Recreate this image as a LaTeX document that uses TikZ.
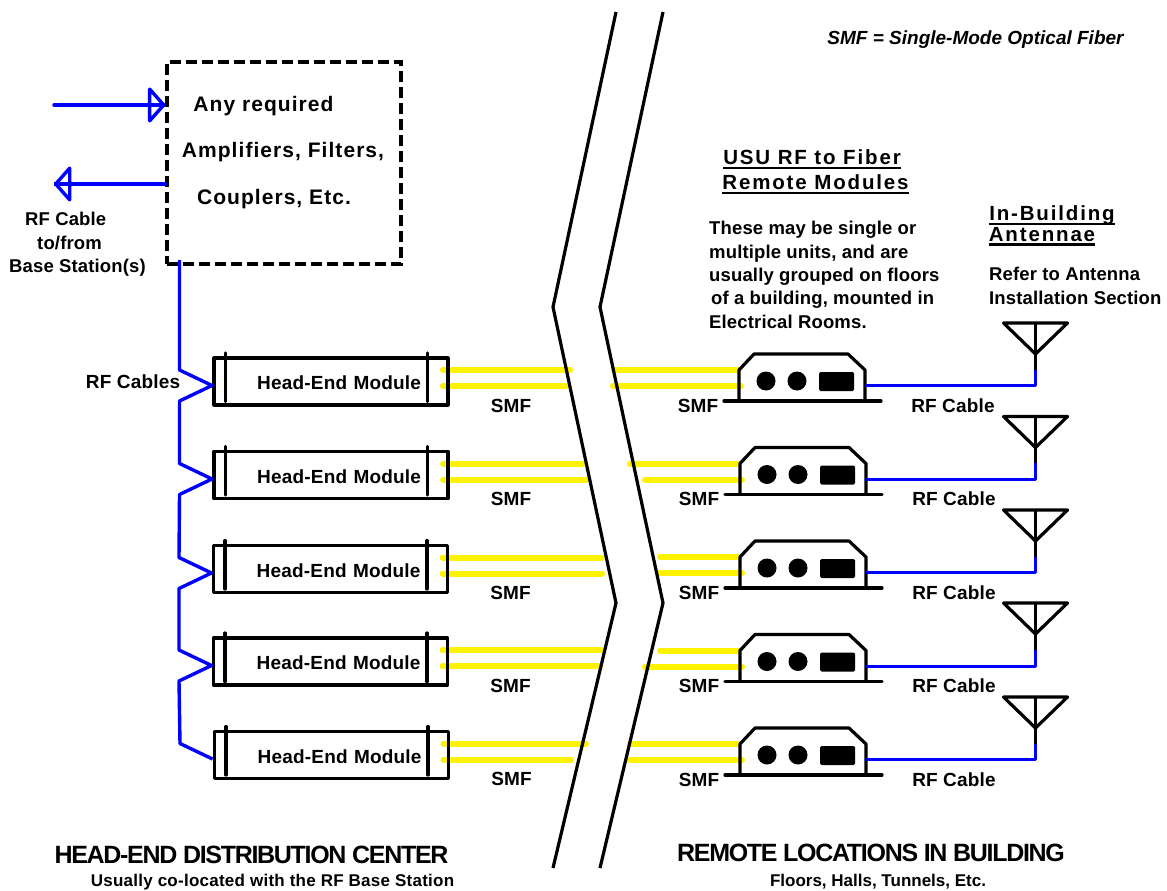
\documentclass[tikz,border=0pt]{standalone}
\usepackage{fontspec}
\usepackage{tikz}
\usetikzlibrary{arrows.meta, positioning, calc}
\setmainfont{Liberation Sans}
\newcommand{\headul}[1]{\setbox0=\hbox{#1}\rlap{\rule[-5pt]{\wd0}{2.7pt}}\box0}

\begin{document}
\begin{tikzpicture}[x=1pt,y=-1pt,
  lab/.style={inner sep=0pt,font=\bfseries\fontsize{19}{23.4}\selectfont\addfontfeature{LetterSpace=1}},
  notetext/.style={inner sep=0pt,align=left,anchor=north west,font=\bfseries\fontsize{18.5}{23.4}\selectfont\addfontfeature{LetterSpace=0.8}},
  subtext/.style={inner sep=0pt,font=\bfseries\fontsize{17}{21}\selectfont},
  boxtext/.style={inner sep=0pt,font=\bfseries\fontsize{21}{24}\selectfont\addfontfeature{LetterSpace=5}},
  headtext/.style={inner sep=0pt,text depth=0pt,font=\bfseries\fontsize{20.5}{24}\selectfont\addfontfeature{LetterSpace=9}},
  titletext/.style={inner sep=0pt,font=\bfseries\fontsize{25}{30}\selectfont\addfontfeature{LetterSpace=-5.2}},
  hebox/.style={draw,line width=3.2pt,line join=round,minimum width=234pt,minimum height=47pt,
    text width=180pt,inner xsep=27pt,inner ysep=0pt,align=right,text height=16pt,text depth=0pt},
  distbox/.style={draw,line width=3.2pt,dash pattern=on 11pt off 5pt,minimum width=234pt,minimum height=202pt},
  blk/.style={line width=3.2pt,line join=round,line cap=round},
  rfline/.style={draw={rgb,255:red,0;green,0;blue,255},line width=3.4pt,line join=round},
  rfarrow/.style={rfline,line cap=round,-{Triangle[open,length=18pt,width=40pt,round]}},
  fiber/.style={draw=yellow,line width=6pt,line cap=round},
  breakline/.style={line width=3.2pt,line join=miter},
  pics/hemod/.style={code={
    \node[hebox,lab] (-box) at (0,0) {Head-End Module};
    \draw[blk] (-105.5,-28.5)--(-105.5,20);
    \draw[blk] (96.5,-28.5)--(96.5,20);
    \node[lab] (-smf) at (180,24) {SMF};
    \coordinate (-tap) at (-119,4);
    \coordinate (-in) at (-151.5,-11.5);
    \coordinate (-out) at (-151.5,19.5);
  }},
  pics/remote/.style={code={
    \draw[blk] (-78,23)--(79,23);
    \draw[blk] (-63,23)--(-63,-8)--(-48,-24)--(46,-24)--(63,-8)--(63,23);
    \fill (-36,3) circle (9.5);
    \fill (-5,3) circle (9.5);
    \fill[rounded corners=1.5pt] (17,-6) rectangle (52,13);
    \node[lab] (-smf) at (-104,27.5) {SMF};
    \node[lab] (-cab) at (151,27.5) {RF Cable};
    \coordinate (-port) at (63,7.7);
  }},
  pics/antenna/.style={code={
    \draw[blk] (-32,-31)--(32,-31)--(0,0)--cycle;
    \draw[blk,line cap=butt] (0,-31)--(0,15.5);
    \coordinate (-feed) at (0,15.5);
  }}]
  \useasboundingbox (0,0) rectangle (1167,891);

  \coordinate (he1f) at (331,381.5);
  \coordinate (he2f) at (331,475);
  \coordinate (he3f) at (330.5,569);
  \coordinate (he4f) at (330.5,661.5);
  \coordinate (he5f) at (331.5,755);
  \coordinate (rm1f) at (802,378);
  \coordinate (rm2f) at (803,471.5);
  \coordinate (rm3f) at (803,565);
  \coordinate (rm4f) at (803,658.5);
  \coordinate (rm5f) at (803,752);

  \path (he1f) ++(112,-11.5) coordinate (f1a) ++(0,16) coordinate (f1b);
  \path (he2f) ++(112,-11.5) coordinate (f2a) ++(0,16) coordinate (f2b);
  \path (he3f) ++(112,-11.5) coordinate (f3a) ++(0,16) coordinate (f3b);
  \path (he4f) ++(112,-11.5) coordinate (f4a) ++(0,16) coordinate (f4b);
  \path (he5f) ++(112,-11.5) coordinate (f5a) ++(0,16) coordinate (f5b);
  \path (rm1f) ++(-64,-8) coordinate (g1a) ++(3,16) coordinate (g1b);
  \path (rm2f) ++(-64,-8) coordinate (g2a) ++(3,16) coordinate (g2b);
  \path (rm3f) ++(-64,-8) coordinate (g3a) ++(3,16) coordinate (g3b);
  \path (rm4f) ++(-64,-8) coordinate (g4a) ++(3,16) coordinate (g4b);
  \path (rm5f) ++(-64,-8) coordinate (g5a) ++(3,16) coordinate (g5b);

  \draw[fiber] (f1a)--++(127,0) (f1b)--++(124,0) (g1a)--++(-124,0) (g1b)--++(-128,0);
  \draw[fiber] (f2a)--++(140,0) (f2b)--++(144,0) (g2a)--++(-109,0) (g2b)--++(-97,0);
  \draw[fiber] (f3a)--++(159.5,0) (f3b)--++(159.5,0) (g3a)--++(-79,0) (g3b)--++(-82,0);
  \draw[fiber] (f4a)--++(159.5,0) (f4b)--++(157.5,0) (g4a)--++(-79,0) (g4b)--++(-97,0);
  \draw[fiber] (f5a)--++(142.5,0) (f5b)--++(127.5,0) (g5a)--++(-109,0) (g5b)--++(-112,0);

  \node[distbox] (dist) at (284,163) {};
  \node[boxtext] (anyreq) at (263.5,106) {Any required};
  \node[boxtext] (ampf) at (283,152) {Amplifiers, Filters,};
  \node[boxtext] (coupl) at (274,199) {Couplers, Etc.};

  \coordinate (rfin) at (54,105);
  \coordinate (rfout) at (54,184);
  \coordinate (feed) at (179.5,260);
  \draw[rfarrow] (rfin)--(dist.west|-rfin);
  \draw[rfline] (rfin)--(dist.west|-rfin);
  \draw[rfarrow] (dist.west|-rfout)--(rfout);
  \draw[rfline] (dist.west|-rfout)--(rfout);
  \node[notetext] (rfbase) at (9,212) {\hspace*{16pt}RF Cable\\\hspace*{28pt}to/from\\Base Station(s)};

  \pic (he1) at (he1f) {hemod};
  \pic (he2) at (he2f) {hemod};
  \pic (he3) at (he3f) {hemod};
  \pic (he4) at (he4f) {hemod};
  \pic (he5) at (he5f) {hemod};
  \draw[rfline] (feed)--(he1-in)--(he1-tap)--(he1-out)--(he2-in)--(he2-tap)--(he2-out)
    --(he3-in)--(he3-tap)--(he3-out)--(he4-in)--(he4-tap)--(he4-out)--(he5-in)--(he5-tap);
  \node[lab] (rfcables) at (133,382) {RF Cables};

  \draw[breakline] (616,12)--(553,307)--(616,603)--(553,868);
  \draw[breakline] (663,12)--(600,307)--(663,603)--(600,868);

  \pic (rm1) at (rm1f) {remote};
  \pic (rm2) at (rm2f) {remote};
  \pic (rm3) at (rm3f) {remote};
  \pic (rm4) at (rm4f) {remote};
  \pic (rm5) at (rm5f) {remote};
  \pic (ant1) at (1035.5,354) {antenna};
  \pic (ant2) at (1035.5,447.5) {antenna};
  \pic (ant3) at (1035.5,541) {antenna};
  \pic (ant4) at (1035.5,634) {antenna};
  \pic (ant5) at (1035.5,728) {antenna};
  \draw[rfline] (rm1-port)-|(ant1-feed);
  \draw[rfline] (rm2-port)-|(ant2-feed);
  \draw[rfline] (rm3-port)-|(ant3-feed);
  \draw[rfline] (rm4-port)-|(ant4-feed);
  \draw[rfline] (rm5-port)-|(ant5-feed);

  \node[inner sep=0pt,font=\bfseries\itshape\fontsize{19}{22}\selectfont] (smfnote) at (975.5,40) {SMF = Single-Mode Optical Fiber};
  \node[headtext] (usu) at (812,157) {\headul{USU RF to Fiber}};
  \node[headtext] (rmods) at (815.5,182) {\headul{Remote Modules}};
  \node[notetext] (rmnote) at (709,221) {These may be single or\\multiple units, and are\\usually grouped on floors\\\hspace*{2pt}of a building, mounted in\\Electrical Rooms.};
  \node[headtext] (inb) at (1052,213) {\headul{In-Building}};
  \node[headtext] (antn) at (1042,234) {\headul{Antennae}};
  \node[notetext] (antnote) at (989,267) {Refer to Antenna\\Installation Section};

  \node[titletext] (hetitle) at (251.5,855) {HEAD-END DISTRIBUTION CENTER};
  \node[subtext,font=\bfseries\fontsize{17}{21}\selectfont\addfontfeature{LetterSpace=1.5}] (hesub) at (272.5,882) {Usually co-located with the RF Base Station};
  \node[titletext] (rmtitle) at (871,853) {REMOTE LOCATIONS IN BUILDING};
  \node[subtext] (rmsub) at (878,882) {Floors, Halls, Tunnels, Etc.};
\end{tikzpicture}
\end{document}
